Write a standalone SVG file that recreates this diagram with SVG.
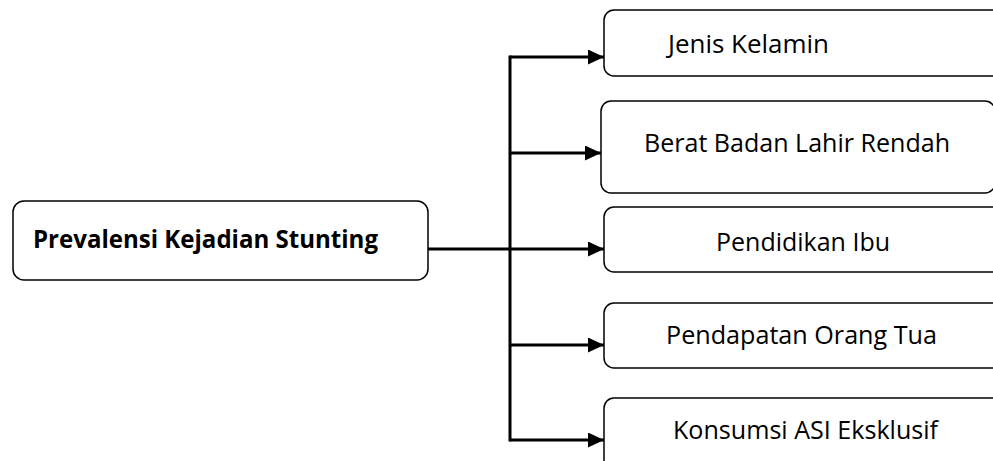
<svg xmlns="http://www.w3.org/2000/svg" width="993" height="461" viewBox="0 0 993 461">
<style>
.box{fill:#fff;stroke:#000;stroke-width:1.5}
.t{font-family:"Open Sans","Liberation Sans",sans-serif;font-size:25px;fill:#000}
.b{font-weight:bold}
.c{fill:none;stroke:#000;stroke-width:3}
</style>
<defs>
<marker id="ah" viewBox="0 0 16 15" refX="16" refY="7.5" markerWidth="16" markerHeight="15" markerUnits="userSpaceOnUse" orient="auto">
<path d="M0,0 L16,7.5 L0,15 z" fill="#000"/>
</marker>
</defs>
<g id="connectors">
<line class="c" x1="428" y1="249" x2="510" y2="249"/>
<line class="c" x1="510" y1="55.5" x2="510" y2="441.5"/>
<line class="c" x1="510" y1="57" x2="604" y2="57" marker-end="url(#ah)"/>
<line class="c" x1="510" y1="153" x2="601" y2="153" marker-end="url(#ah)"/>
<line class="c" x1="510" y1="249" x2="604" y2="249" marker-end="url(#ah)"/>
<line class="c" x1="510" y1="345" x2="604" y2="345" marker-end="url(#ah)"/>
<line class="c" x1="510" y1="440" x2="604" y2="440" marker-end="url(#ah)"/>
</g>
<g id="main">
<rect class="box" x="13" y="201" width="415" height="79" rx="11"/>
<text class="t b" x="33" y="248" textLength="345" lengthAdjust="spacingAndGlyphs">Prevalensi Kejadian Stunting</text>
</g>
<g id="n1">
<rect class="box" x="604" y="10" width="410" height="66" rx="10"/>
<text class="t" x="668" y="53" textLength="161" lengthAdjust="spacingAndGlyphs">Jenis Kelamin</text>
</g>
<g id="n2">
<rect class="box" x="601" y="101" width="394" height="92" rx="10"/>
<text class="t" x="644" y="152" textLength="306" lengthAdjust="spacingAndGlyphs">Berat Badan Lahir Rendah</text>
</g>
<g id="n3">
<rect class="box" x="604" y="207" width="410" height="65" rx="10"/>
<text class="t" x="716" y="251" textLength="174" lengthAdjust="spacingAndGlyphs">Pendidikan Ibu</text>
</g>
<g id="n4">
<rect class="box" x="604" y="303" width="410" height="65" rx="10"/>
<text class="t" x="666" y="344" textLength="271" lengthAdjust="spacingAndGlyphs">Pendapatan Orang Tua</text>
</g>
<g id="n5">
<rect class="box" x="604" y="398" width="410" height="80" rx="10"/>
<text class="t" x="673" y="439" textLength="265" lengthAdjust="spacingAndGlyphs">Konsumsi ASI Eksklusif</text>
</g>
</svg>
